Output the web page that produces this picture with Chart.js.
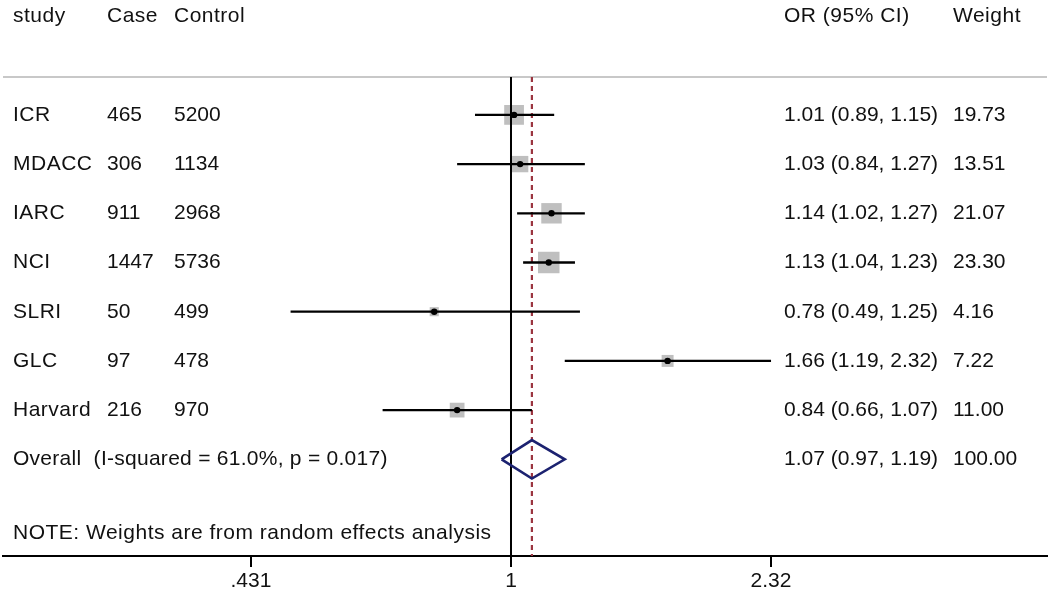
<!DOCTYPE html>
<html><head><meta charset="utf-8">
<script src="https://cdn.jsdelivr.net/npm/chart.js@4/dist/chart.umd.min.js"></script>
<style>html,body{margin:0;padding:0;background:#fff;} #wrap{width:1050px;height:600px;}</style>
</head><body><div id="wrap"><canvas id="c" width="1050" height="600"></canvas></div>
<script>
const studies = ['ICR','MDACC','IARC','NCI','SLRI','GLC','Harvard'];
const cases = [465,306,911,1447,50,97,216];
const controls = [5200,1134,2968,5736,499,478,970];
const orValues = [1.01,1.03,1.14,1.13,0.78,1.66,0.84];
const ciLow = [0.89,0.84,1.02,1.04,0.49,1.19,0.66];
const ciHigh = [1.15,1.27,1.27,1.23,1.25,2.32,1.07];
const weights = [19.73,13.51,21.07,23.30,4.16,7.22,11.00];
const overallOR = 1.07, overallLow = 0.97, overallHigh = 1.19, overallWeight = 100.00;
const overallLabel = 'Overall  (I-squared = 61.0%, p = 0.017)';
const headers = ['study','Case','Control','OR (95% CI)','Weight'];
const note = 'NOTE: Weights are from random effects analysis';
const xTicks = [0.431, 1, 2.32];
const xTickLabels = ['.431','1','2.32'];

const FONT = '21px "Liberation Sans", Arial, sans-serif';
const rowOf = i => i + 2;
const overallRow = 9, noteRow = 10.5, sepRow = 1.23, yMin = -0.335, yMax = 10.965;
const fmt = v => v.toFixed(2);

const datasets = [];
// weight squares
datasets.push({
  data: orValues.map((v,i)=>({x:v,y:rowOf(i)})),
  pointStyle:'rect',
  pointRadius: weights.map(w => 4.45*Math.sqrt(w)/Math.SQRT2),
  pointHoverRadius: weights.map(w => 4.45*Math.sqrt(w)/Math.SQRT2),
  backgroundColor:'#bfbfbf', borderWidth:0, order:5
});
// CI lines
studies.forEach((s,i)=>{
  datasets.push({
    data:[{x:ciLow[i],y:rowOf(i)},{x:ciHigh[i],y:rowOf(i)}],
    showLine:true, borderColor:'#000', borderWidth:2.3, pointRadius:0, order:3
  });
});
// point estimates
datasets.push({
  data: orValues.map((v,i)=>({x:v,y:rowOf(i)})),
  pointStyle:'circle', pointRadius:3.2, backgroundColor:'#000', borderWidth:0, order:1
});
// reference line at 1
datasets.push({
  data:[{x:1,y:sepRow},{x:1,y:yMax}],
  showLine:true, borderColor:'#000', borderWidth:2, pointRadius:0, order:4
});
// dashed overall line
datasets.push({
  data:[{x:overallOR,y:sepRow},{x:overallOR,y:yMax}],
  showLine:true, borderColor:'#9b3540', borderWidth:2.2, borderDash:[5,4], pointRadius:0, order:4
});
// diamond
datasets.push({
  data:[{x:overallLow,y:overallRow},{x:overallOR,y:overallRow-0.39},{x:overallHigh,y:overallRow},{x:overallOR,y:overallRow+0.39},{x:overallLow,y:overallRow}],
  showLine:true, borderColor:'#1c2270', borderWidth:2.6, pointRadius:0, tension:0, fill:false, order:1
});

const textPlugin = {
  id:'forestText',
  beforeDatasetsDraw(chart){
    const {ctx, chartArea, scales:{y}} = chart;
    ctx.save();
    ctx.strokeStyle = '#c8c8c8';
    ctx.lineWidth = 2;
    const ys = y.getPixelForValue(sepRow);
    ctx.beginPath(); ctx.moveTo(chartArea.left, ys); ctx.lineTo(chartArea.right, ys); ctx.stroke();
    ctx.restore();
  },
  afterDatasetsDraw(chart){
    const {ctx, scales:{y}} = chart;
    ctx.save();
    ctx.font = FONT;
    ctx.fillStyle = '#111';
    ctx.textBaseline = 'middle';
    ctx.textAlign = 'left';
    const colX = [13,107,174,784,953];
    const words = (t,x,yy,sp) => { ctx.letterSpacing = (sp||0.5)+'px'; ctx.fillText(t,x,yy); ctx.letterSpacing = '0px'; };
    const yh = y.getPixelForValue(0);
    headers.forEach((h,i)=>words(h,colX[i],yh));
    studies.forEach((s,i)=>{
      const yy = y.getPixelForValue(rowOf(i));
      words(s,colX[0],yy);
      ctx.fillText(String(cases[i]),colX[1],yy);
      ctx.fillText(String(controls[i]),colX[2],yy);
      ctx.fillText(fmt(orValues[i])+' ('+fmt(ciLow[i])+', '+fmt(ciHigh[i])+')',colX[3],yy);
      ctx.fillText(fmt(weights[i]),colX[4],yy);
    });
    const yo = y.getPixelForValue(overallRow);
    words(overallLabel,colX[0],yo,0.27);
    ctx.fillText(fmt(overallOR)+' ('+fmt(overallLow)+', '+fmt(overallHigh)+')',colX[3],yo);
    ctx.fillText(fmt(overallWeight),colX[4],yo);
    words(note,colX[0],y.getPixelForValue(noteRow));
    ctx.restore();
  }
};

new Chart(document.getElementById('c'), {
  type:'scatter',
  data:{datasets},
  plugins:[textPlugin],
  options:{
    responsive:false, animation:false, devicePixelRatio:1,
    layout:{autoPadding:false, padding:{left:3,right:3,top:0,bottom:0}},
    plugins:{legend:{display:false}, tooltip:{enabled:false}},
    scales:{
      x:{
        type:'logarithmic', bounds:'data', min:0.1932, max:5.667,
        afterBuildTicks: s => { s.ticks = xTicks.map(v=>({value:v})); },
        afterFit: s => { s.height = 44; },
        grid:{display:true, drawOnChartArea:false, drawTicks:true, tickLength:11, color:'#000', lineWidth:2},
        border:{display:true, color:'#000', width:2},
        ticks:{callback: v => xTickLabels[xTicks.indexOf(v)], font:{family:'"Liberation Sans", Arial, sans-serif', size:21}, color:'#111', padding:2, maxRotation:0, autoSkip:false}
      },
      y:{type:'linear', reverse:true, min:yMin, max:yMax, display:false}
    }
  }
});
</script>
</body></html>
